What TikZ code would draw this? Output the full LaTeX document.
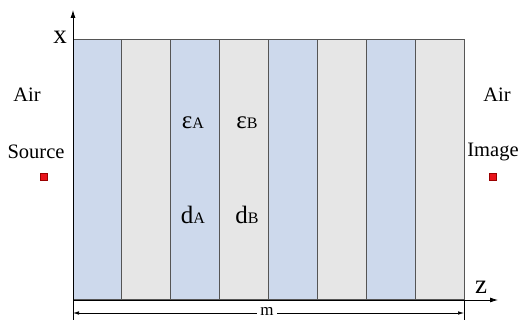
\documentclass[tikz,border=0pt]{standalone}
\usepackage{fontspec}
\setmainfont{Liberation Serif}
\usetikzlibrary{arrows.meta}
\definecolor{layerA}{HTML}{CDD9EC}
\definecolor{layerB}{HTML}{E6E6E6}
\definecolor{edge}{HTML}{555555}
\definecolor{srcred}{HTML}{E8141B}
\tikzset{
  lbl/.style={inner sep=0pt, font=\fontsize{20.5}{23}\selectfont},
  axislbl/.style={inner sep=0pt, font=\fontsize{27}{29}\selectfont},
  sym/.style={inner sep=0pt, font=\fontsize{25}{27}\selectfont},
  strip/.style={draw=edge, line width=1pt},
  axis/.style={line width=0.8pt, -{Latex[length=8pt,width=5pt]}},
  dimleft/.style={line width=0.6pt, {Latex[length=6pt,width=3.5pt]}-},
  dimright/.style={line width=0.6pt, -{Latex[length=6pt,width=3.5pt]}},
  marker/.style={draw=red!60!black, fill=srcred, minimum size=7pt, inner sep=0pt, line width=0.4pt}
}
\begin{document}
\begin{tikzpicture}[x=1pt,y=-1pt]
\useasboundingbox (0,0) rectangle (523,323);
% strips
\foreach \i/\c in {0/layerA,1/layerB,2/layerA,3/layerB,4/layerA,5/layerB,6/layerA,7/layerB}{
  \fill[\c] ({73+\i*48.875},40) rectangle ({73+(\i+1)*48.875},300);
}
\foreach \i in {1,...,7}{
  \draw[strip] ({73+\i*48.875},40) -- ({73+\i*48.875},300);
}
\draw[strip] (73,40) rectangle (464,300);
% axes
\coordinate (o) at (73,300);
\coordinate (xend) at (73,10);
\coordinate (zend) at (498,300);
\draw[axis] (o) -- (xend);
\draw[axis] (o) -- (zend);
\node[axislbl] (xl) at (60,37) {x};
\node[axislbl] (zl) at (481,287) {z};
% dimension
\coordinate (t1a) at (73,300);
\coordinate (t1b) at (73,320);
\coordinate (t2a) at (464,300);
\coordinate (t2b) at (464,320);
\draw[line width=0.5pt] (t1a) -- (t1b);
\draw[line width=0.5pt] (t2a) -- (t2b);
\node[inner sep=3pt, font=\fontsize{17}{19}\selectfont] (m) at (267,311) {m};
\coordinate (dl) at (73,313);
\coordinate (dr) at (464,313);
\draw[dimleft] (dl) -- (m.west |- dl);
\draw[dimright] (m.east |- dr) -- (dr);
% labels
\node[lbl] (airl) at (27,95) {Air};
\node[lbl] (airr) at (497,95) {Air};
\node[lbl] (src) at (36,152) {Source};
\node[lbl] (img) at (493,152) {Image};
\node[marker] (srcm) at (44,177) {};
\node[marker] (imgm) at (493,177) {};
% material symbols
\node[sym, anchor=base] (ea) at (193,129) {ε\fontsize{16}{18}\selectfont A};
\node[sym, anchor=base] (eb) at (247,129) {ε\fontsize{16}{18}\selectfont B};
\node[sym, anchor=base] (da) at (193,224) {d\fontsize{16}{18}\selectfont A};
\node[sym, anchor=base] (db) at (247,224) {d\fontsize{16}{18}\selectfont B};
\end{tikzpicture}
\end{document}
